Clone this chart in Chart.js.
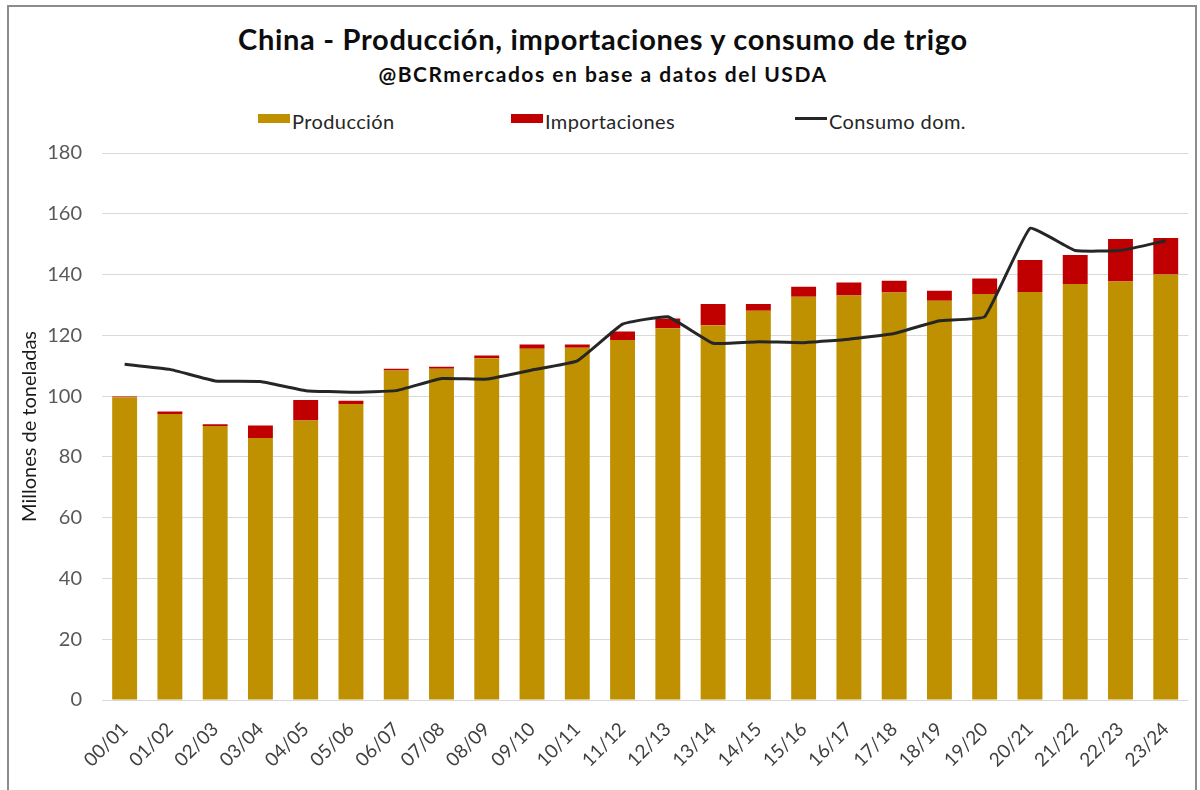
<!DOCTYPE html>
<html><head><meta charset="utf-8">
<script src="https://cdn.jsdelivr.net/npm/chart.js@4.4.1/dist/chart.umd.min.js"></script>
<style>
html,body{margin:0;padding:0;background:#fff;}
#wrap{position:relative;width:1200px;height:790px;overflow:hidden;font-family:Lato,'Open Sans',sans-serif;}
#frame{position:absolute;left:7px;top:5px;width:1190px;height:800px;border:2px solid #8c8c8c;box-sizing:border-box;}
#title{position:absolute;left:8px;width:1190px;top:21px;text-align:center;font-weight:bold;font-size:29px;letter-spacing:0.7px;color:#0d0d0d;white-space:nowrap;}
#subtitle{position:absolute;left:8px;width:1190px;top:61px;text-align:center;font-weight:bold;font-size:21px;letter-spacing:1.5px;color:#0d0d0d;white-space:nowrap;}
#legend{position:absolute;top:108px;left:0;width:1200px;height:26px;font-size:20px;letter-spacing:0.4px;color:#262626;}
.li{position:absolute;top:0;height:26px;line-height:26px;white-space:nowrap;}
.sw{position:absolute;left:0;}
.tx{position:absolute;left:34px;top:0;}
canvas{position:absolute;left:0;top:0;}
</style></head>
<body><div id="wrap">
<div id="frame"></div>
<div id="title">China - Producción, importaciones y consumo de trigo</div>
<div id="subtitle">@BCRmercados en base a datos del USDA</div>
<div id="legend"></div>
<canvas id="c" width="1200" height="790"></canvas>
</div>
<script>
const categories = ['00/01','01/02','02/03','03/04','04/05','05/06','06/07','07/08','08/09','09/10','10/11','11/12','12/13','13/14','14/15','15/16','16/17','17/18','18/19','19/20','20/21','21/22','22/23','23/24'];
const produccion = [99.6,94.1,90.2,86.2,92.0,97.4,108.4,109.0,112.5,115.6,115.9,118.5,122.3,123.3,128.1,132.7,133.1,134.1,131.4,133.6,134.3,136.9,137.7,140.0];
const importaciones = [0.3,0.8,0.5,4.1,6.7,1.1,0.6,0.7,0.9,1.4,1.1,2.8,3.2,7.0,2.2,3.3,4.3,3.9,3.3,5.1,10.5,9.5,14.0,12.0];
const consumo = [110.5,108.8,105.0,104.8,101.8,101.3,101.8,105.8,105.6,108.6,111.6,123.7,126.1,117.4,117.9,117.6,118.7,120.6,124.8,126.1,155.2,147.9,147.9,151.1];
const seriesNames = ['Producción','Importaciones','Consumo dom.'];
const seriesColors = ['#BF9000','#C00000','#262626'];

const FONT = 'Lato, "Open Sans", sans-serif';

// HTML legend built from series names/colors
const legendX = [258, 511, 795];
const lg = document.getElementById('legend');
seriesNames.forEach((n, i) => {
  const d = document.createElement('div');
  d.className = 'li';
  d.style.left = legendX[i] + 'px';
  const sw = document.createElement('span');
  sw.className = 'sw';
  sw.style.width = '32px';
  if (i < 2) { sw.style.height = '9px'; sw.style.top = '6px'; }
  else { sw.style.height = '3px'; sw.style.top = '9px'; }
  sw.style.background = seriesColors[i];
  const tx = document.createElement('span');
  tx.className = 'tx';
  tx.textContent = n;
  d.appendChild(sw);
  d.appendChild(tx);
  lg.appendChild(d);
});

new Chart(document.getElementById('c'), {
  data: {
    labels: categories,
    datasets: [
      { type: 'line', label: seriesNames[2], data: consumo, borderColor: seriesColors[2], borderWidth: 3, pointRadius: 0, tension: 0.1, order: 1, fill: false },
      { type: 'bar', label: seriesNames[0], data: produccion, backgroundColor: seriesColors[0], stack: 's', order: 2, barPercentage: 0.55, categoryPercentage: 1 },
      { type: 'bar', label: seriesNames[1], data: importaciones, backgroundColor: seriesColors[1], stack: 's', order: 3, barPercentage: 0.55, categoryPercentage: 1 }
    ]
  },
  options: {
    responsive: false,
    animation: false,
    layout: { padding: { top: 153, right: 6, left: 0, bottom: 0 } },
    plugins: { legend: { display: false }, tooltip: { enabled: false }, title: { display: false } },
    scales: {
      x: {
        stacked: true,
        grid: { display: false, drawTicks: false },
        border: { display: false },
        ticks: { maxRotation: 45, minRotation: 45, autoSkip: false, padding: 18, color: '#404040', font: { family: FONT, size: 19 } },
        afterFit: (s) => { s.height = 90; }
      },
      y: {
        stacked: true,
        min: 0, max: 180,
        ticks: { stepSize: 20, padding: 20, color: '#595959', font: { family: FONT, size: 20 } },
        grid: { color: '#d9d9d9', lineWidth: 1, drawTicks: false },
        border: { display: false },
        title: { display: true, text: 'Millones de toneladas', color: '#1a1a1a', font: { family: FONT, size: 20 }, padding: { top: 18, bottom: 0 } },
        afterFit: (s) => { s.width = 102; }
      }
    }
  }
});
</script>
</body></html>
